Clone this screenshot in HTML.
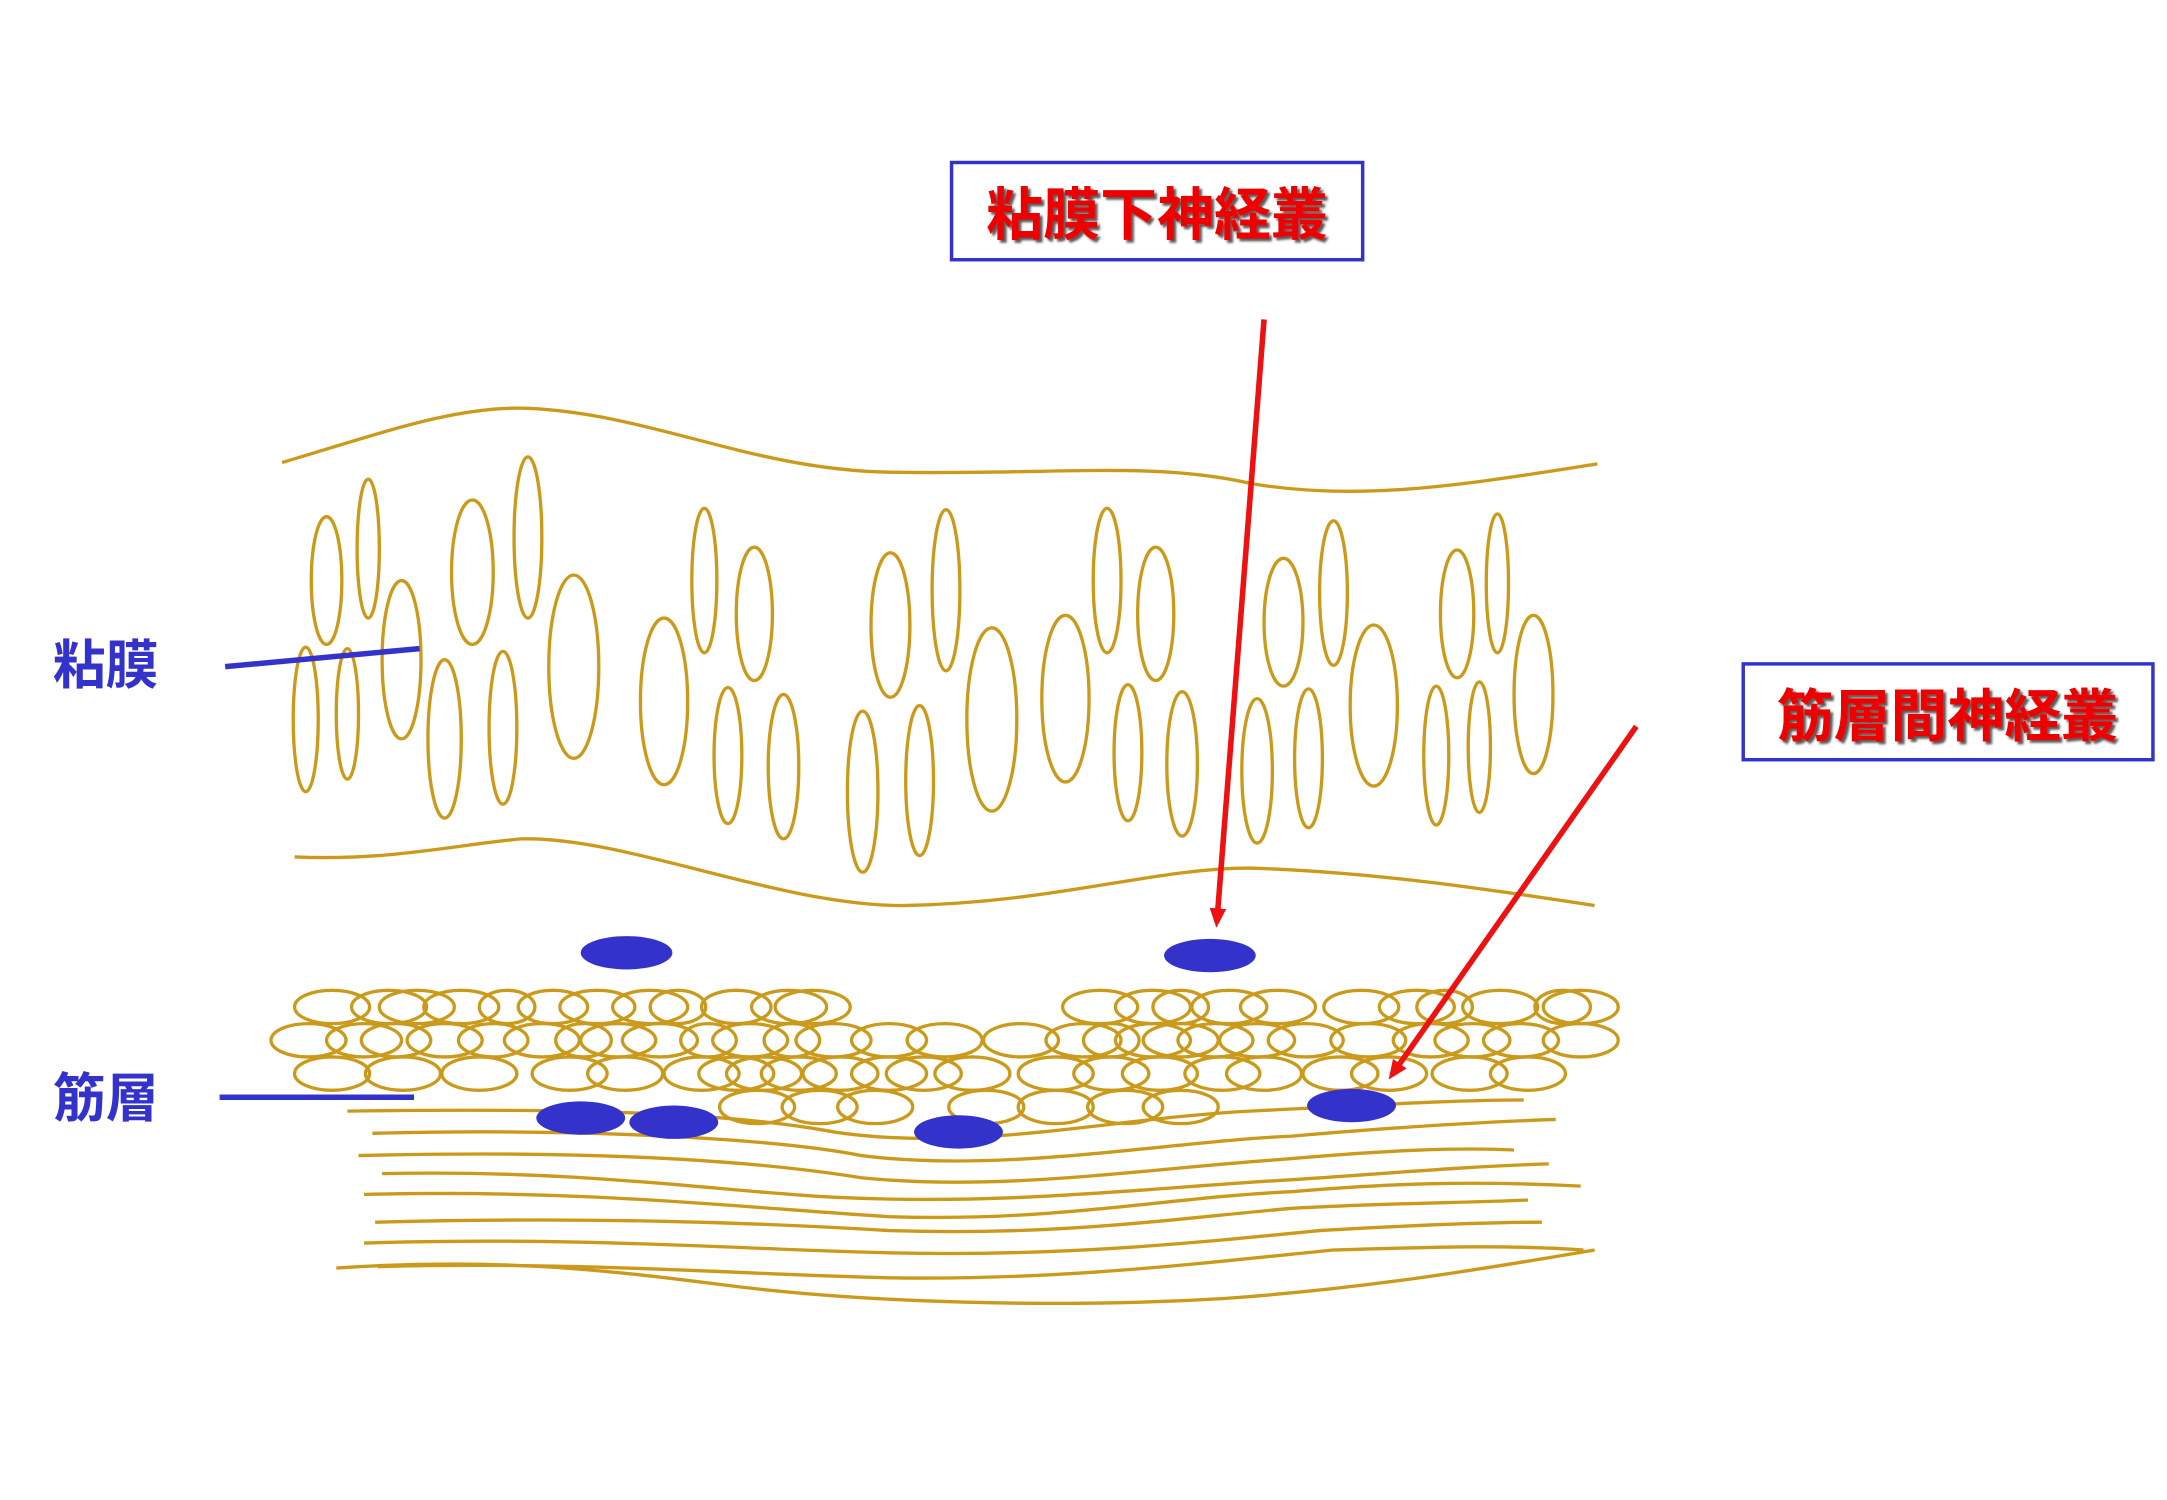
<!DOCTYPE html>
<html><head><meta charset="utf-8"><style>
html,body{margin:0;padding:0;background:#fff;}
svg{display:block;}
.t{font-family:"Liberation Sans","Noto Sans CJK JP",sans-serif;font-weight:bold;}
</style></head><body>
<svg width="2167" height="1500" viewBox="0 0 1560 1080" xmlns="http://www.w3.org/2000/svg">
<defs>
<marker id="ah" markerWidth="14" markerHeight="12" refX="10" refY="6" orient="auto" markerUnits="userSpaceOnUse">
<path d="M0,0 L14,6 L0,12 Z" fill="#ee1111"/>
</marker>
<filter id="sh"><feDropShadow dx="2" dy="2" stdDeviation="0.8" flood-color="#333" flood-opacity="0.8"/></filter>
</defs>
<g fill="none" stroke="#cc9a1a" stroke-width="2.4">
<path d="M203,333 C280,310 330,292 380,294 C470,298 540,338 640,340 C760,342 830,332 900,348 C980,362 1060,348 1150,334"/>
<path d="M212,617 C280,620 330,608 375,604 C450,602 560,652 650,652 C760,650 830,625 900,625 C990,628 1070,640 1148,652"/>
<ellipse cx="235" cy="418" rx="11" ry="46"/><ellipse cx="265" cy="395" rx="8" ry="50"/>
<ellipse cx="289" cy="475" rx="14" ry="57"/><ellipse cx="220" cy="518" rx="9" ry="52"/>
<ellipse cx="250" cy="514" rx="8" ry="47"/><ellipse cx="340" cy="412" rx="15" ry="52"/>
<ellipse cx="380" cy="387" rx="10" ry="58"/><ellipse cx="413" cy="480" rx="18" ry="66"/>
<ellipse cx="320" cy="532" rx="12" ry="57"/><ellipse cx="362" cy="524" rx="10" ry="55"/>
<ellipse cx="478" cy="505" rx="17" ry="60"/><ellipse cx="507" cy="418" rx="9" ry="52"/>
<ellipse cx="543" cy="442" rx="13" ry="48"/><ellipse cx="524" cy="544" rx="10" ry="49"/>
<ellipse cx="564" cy="552" rx="11" ry="52"/><ellipse cx="641" cy="450" rx="14" ry="52"/>
<ellipse cx="681" cy="425" rx="10" ry="58"/><ellipse cx="714" cy="518" rx="18" ry="66"/>
<ellipse cx="621" cy="570" rx="11" ry="58"/><ellipse cx="662" cy="562" rx="10" ry="54"/>
<ellipse cx="767" cy="503" rx="17" ry="60"/><ellipse cx="797" cy="418" rx="10" ry="52"/>
<ellipse cx="832" cy="442" rx="13" ry="48"/><ellipse cx="812" cy="542" rx="10" ry="49"/>
<ellipse cx="851" cy="550" rx="11" ry="52"/><ellipse cx="924" cy="448" rx="14" ry="46"/>
<ellipse cx="960" cy="427" rx="10" ry="52"/><ellipse cx="989" cy="508" rx="17" ry="58"/>
<ellipse cx="905" cy="555" rx="11" ry="52"/><ellipse cx="942" cy="546" rx="10" ry="50"/>
<ellipse cx="1049" cy="442" rx="12" ry="46"/><ellipse cx="1078" cy="420" rx="8" ry="50"/>
<ellipse cx="1104" cy="500" rx="14" ry="57"/><ellipse cx="1034" cy="544" rx="9" ry="50"/>
<ellipse cx="1065" cy="538" rx="8" ry="47"/>
<ellipse cx="239" cy="725" rx="27" ry="12"/><ellipse cx="280" cy="725" rx="27" ry="12"/><ellipse cx="300" cy="725" rx="27" ry="12"/><ellipse cx="332" cy="725" rx="27" ry="12"/><ellipse cx="365" cy="725" rx="20" ry="12"/><ellipse cx="398" cy="725" rx="25" ry="12"/><ellipse cx="430" cy="725" rx="27" ry="12"/><ellipse cx="468" cy="725" rx="27" ry="12"/><ellipse cx="488" cy="725" rx="20" ry="12"/><ellipse cx="530" cy="725" rx="25" ry="12"/><ellipse cx="568" cy="725" rx="27" ry="12"/><ellipse cx="585" cy="725" rx="27" ry="12"/>
<ellipse cx="792" cy="725" rx="27" ry="12"/><ellipse cx="830" cy="725" rx="27" ry="12"/><ellipse cx="850" cy="725" rx="20" ry="12"/><ellipse cx="885" cy="725" rx="27" ry="12"/><ellipse cx="920" cy="725" rx="27" ry="12"/><ellipse cx="980" cy="725" rx="27" ry="12"/><ellipse cx="1020" cy="725" rx="27" ry="12"/><ellipse cx="1040" cy="725" rx="20" ry="12"/><ellipse cx="1080" cy="725" rx="27" ry="12"/><ellipse cx="1125" cy="725" rx="20" ry="12"/><ellipse cx="1138" cy="725" rx="27" ry="12"/>
<ellipse cx="222" cy="749" rx="27" ry="12"/><ellipse cx="262" cy="749" rx="27" ry="12"/><ellipse cx="285" cy="749" rx="25" ry="12"/><ellipse cx="320" cy="749" rx="27" ry="12"/><ellipse cx="355" cy="749" rx="25" ry="12"/><ellipse cx="390" cy="749" rx="27" ry="12"/><ellipse cx="420" cy="749" rx="20" ry="12"/><ellipse cx="445" cy="749" rx="27" ry="12"/><ellipse cx="475" cy="749" rx="27" ry="12"/><ellipse cx="510" cy="749" rx="20" ry="12"/><ellipse cx="540" cy="749" rx="27" ry="12"/><ellipse cx="570" cy="749" rx="20" ry="12"/><ellipse cx="600" cy="749" rx="27" ry="12"/><ellipse cx="640" cy="749" rx="27" ry="12"/><ellipse cx="680" cy="749" rx="27" ry="12"/><ellipse cx="735" cy="749" rx="27" ry="12"/><ellipse cx="780" cy="749" rx="27" ry="12"/><ellipse cx="800" cy="749" rx="20" ry="12"/><ellipse cx="830" cy="749" rx="27" ry="12"/><ellipse cx="850" cy="749" rx="27" ry="12"/><ellipse cx="875" cy="749" rx="27" ry="12"/><ellipse cx="905" cy="749" rx="27" ry="12"/><ellipse cx="940" cy="749" rx="27" ry="12"/><ellipse cx="985" cy="749" rx="27" ry="12"/><ellipse cx="1030" cy="749" rx="27" ry="12"/><ellipse cx="1060" cy="749" rx="27" ry="12"/><ellipse cx="1095" cy="749" rx="27" ry="12"/><ellipse cx="1138" cy="749" rx="27" ry="12"/>
<ellipse cx="239" cy="773" rx="27" ry="12"/><ellipse cx="290" cy="773" rx="27" ry="12"/><ellipse cx="345" cy="773" rx="27" ry="12"/><ellipse cx="410" cy="773" rx="27" ry="12"/><ellipse cx="450" cy="773" rx="27" ry="12"/><ellipse cx="505" cy="773" rx="27" ry="12"/><ellipse cx="530" cy="773" rx="27" ry="12"/><ellipse cx="550" cy="773" rx="27" ry="12"/><ellipse cx="575" cy="773" rx="27" ry="12"/><ellipse cx="605" cy="773" rx="27" ry="12"/><ellipse cx="640" cy="773" rx="27" ry="12"/><ellipse cx="665" cy="773" rx="27" ry="12"/><ellipse cx="700" cy="773" rx="27" ry="12"/><ellipse cx="760" cy="773" rx="27" ry="12"/><ellipse cx="800" cy="773" rx="27" ry="12"/><ellipse cx="835" cy="773" rx="27" ry="12"/><ellipse cx="880" cy="773" rx="27" ry="12"/><ellipse cx="910" cy="773" rx="27" ry="12"/><ellipse cx="965" cy="773" rx="27" ry="12"/><ellipse cx="1000" cy="773" rx="27" ry="12"/><ellipse cx="1058" cy="773" rx="27" ry="12"/><ellipse cx="1100" cy="773" rx="27" ry="12"/>
<ellipse cx="545" cy="797" rx="27" ry="12"/><ellipse cx="590" cy="797" rx="27" ry="12"/><ellipse cx="630" cy="797" rx="27" ry="12"/><ellipse cx="710" cy="797" rx="27" ry="12"/><ellipse cx="760" cy="797" rx="27" ry="12"/><ellipse cx="810" cy="797" rx="27" ry="12"/><ellipse cx="850" cy="797" rx="27" ry="12"/>
<path d="M250,800 C400,798 520,800 600,815 C700,830 800,805 900,800 C1000,795 1050,792 1097,792"/>
<path d="M268,816 C420,812 560,820 620,832 C720,845 840,822 930,818 C1000,812 1060,808 1120,806"/>
<path d="M258,832 C420,828 540,835 620,848 C720,858 820,842 920,835 C1000,828 1050,826 1090,828"/>
<path d="M275,845 C420,842 520,858 600,862 C720,868 820,856 920,850 C1000,845 1050,840 1115,838"/>
<path d="M262,860 C420,856 540,870 640,876 C760,880 840,862 930,858 C1000,852 1060,850 1138,854"/>
<path d="M270,880 C420,876 540,880 640,886 C760,890 840,878 930,870 C1000,866 1060,866 1100,864"/>
<path d="M262,895 C420,890 540,900 640,902 C760,905 860,895 950,886 C1020,882 1070,880 1110,880"/>
<path d="M272,912 C420,908 540,918 640,920 C760,922 860,910 960,900 C1030,898 1080,896 1140,900"/>
<path d="M242,913 C360,905 440,915 520,925 C620,938 760,942 880,935 C980,928 1060,915 1148,900"/>
</g>
<g fill="#3333cc">
<ellipse cx="451" cy="686" rx="33" ry="12"/><ellipse cx="871" cy="688" rx="33" ry="12"/>
<ellipse cx="418" cy="805" rx="32" ry="12"/><ellipse cx="485" cy="808" rx="32" ry="12"/>
<ellipse cx="690" cy="815" rx="32" ry="12"/><ellipse cx="973" cy="796" rx="32" ry="12"/>
</g>
<line x1="162" y1="480" x2="302" y2="467" stroke="#3333cc" stroke-width="4"/>
<line x1="158" y1="790" x2="298" y2="790" stroke="#3333cc" stroke-width="4"/>
<text x="38" y="492" class="t" font-size="38" fill="#3333cc">粘膜</text>
<text x="38" y="804" class="t" font-size="38" fill="#3333cc">筋層</text>
<line x1="910" y1="230" x2="876" y2="664" stroke="#ee1111" stroke-width="4" marker-end="url(#ah)"/>
<line x1="1178" y1="523" x2="1002" y2="774" stroke="#ee1111" stroke-width="4" marker-end="url(#ah)"/>
<rect x="685" y="117" width="296" height="70" fill="#fff" stroke="#3333cc" stroke-width="2.5"/>
<text x="833" y="169" text-anchor="middle" class="t" font-size="41" fill="#ee0000" filter="url(#sh)">粘膜下神経叢</text>
<rect x="1255" y="478" width="295" height="69" fill="#fff" stroke="#3333cc" stroke-width="2.5"/>
<text x="1402" y="530" text-anchor="middle" class="t" font-size="41" fill="#ee0000" filter="url(#sh)">筋層間神経叢</text>
</svg>
</body></html>
